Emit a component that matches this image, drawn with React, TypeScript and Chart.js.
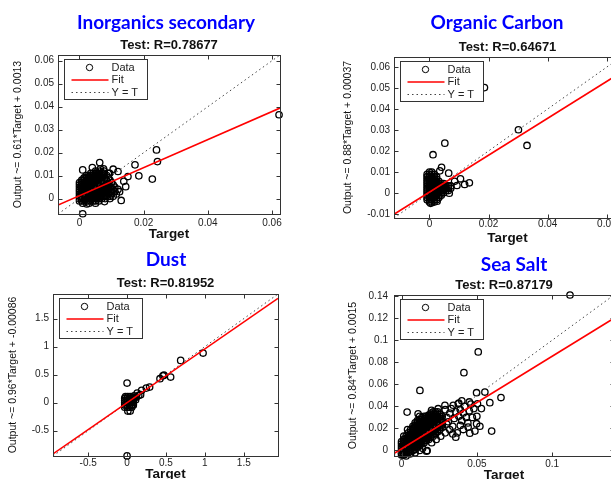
import { useEffect, useRef } from "react";
import { Chart, registerables } from "chart.js";

Chart.register(...registerables);

// ---------------- DATA ----------------
const panelTitles = ["Inorganics secondary", "Organic Carbon", "Dust", "Sea Salt"];
const panelR = ["0.78677", "0.64671", "0.81952", "0.87179"];
const yAxisTitles = [
  "Output ~= 0.61*Target + 0.0013",
  "Output ~= 0.88*Target + 0.00037",
  "Output ~= 0.96*Target + -0.00086",
  "Output ~= 0.84*Target + 0.0015",
];
const fitSlopes = [0.61, 0.88, 0.96, 0.84];
const fitIntercepts = [0.0013, 0.00037, -0.00086, 0.0015];
const axisMin = [-0.0067, -0.012, -0.952, -0.005];
const axisMax = [0.0625, 0.0648, 1.94, 0.141];
const xTickValues = [
  [0, 0.02, 0.04, 0.06],
  [0, 0.02, 0.04, 0.06],
  [-0.5, 0, 0.5, 1, 1.5],
  [0, 0.05, 0.1],
];
const yTickValues = [
  [0, 0.01, 0.02, 0.03, 0.04, 0.05, 0.06],
  [-0.01, 0, 0.01, 0.02, 0.03, 0.04, 0.05, 0.06],
  [-0.5, 0, 0.5, 1, 1.5],
  [0, 0.02, 0.04, 0.06, 0.08, 0.1, 0.12, 0.14],
];

// Inorganics secondary: dense core, one row of targets per output level
const inorganicsCoreY = [-0.002, -0.001, 0, 0.001, 0.002, 0.003, 0.004, 0.005, 0.006, 0.007, 0.008, 0.009, 0.01, 0.011, 0.012, 0.013];
const inorganicsCoreX = [
  [0.001, 0.003, 0.005],
  [0, 0.0007, 0.0014, 0.0021, 0.0028, 0.0035, 0.0042, 0.0049, 0.006],
  [0, 0.0007, 0.0014, 0.0021, 0.0028, 0.0035, 0.0042, 0.0049, 0.0056, 0.0063, 0.007, 0.008, 0.0095],
  [0, 0.0007, 0.0014, 0.0021, 0.0028, 0.0035, 0.0042, 0.0049, 0.0056, 0.0063, 0.007, 0.0077, 0.0084, 0.0095, 0.0105],
  [0, 0.0007, 0.0014, 0.0021, 0.0028, 0.0035, 0.0042, 0.0049, 0.0056, 0.0063, 0.007, 0.0077, 0.0084, 0.0091, 0.01, 0.0115],
  [0, 0.0007, 0.0014, 0.0021, 0.0028, 0.0035, 0.0042, 0.0049, 0.0056, 0.0063, 0.007, 0.0077, 0.0084, 0.0091, 0.0098, 0.011, 0.0125],
  [0, 0.0007, 0.0014, 0.0021, 0.0028, 0.0035, 0.0042, 0.0049, 0.0056, 0.0063, 0.007, 0.0077, 0.0084, 0.0091, 0.0098, 0.0105, 0.012],
  [0, 0.0007, 0.0014, 0.0021, 0.0028, 0.0035, 0.0042, 0.0049, 0.0056, 0.0063, 0.007, 0.0077, 0.0084, 0.0091, 0.0098, 0.011],
  [0, 0.0007, 0.0014, 0.0021, 0.0028, 0.0035, 0.0042, 0.0049, 0.0056, 0.0063, 0.007, 0.0077, 0.0084, 0.0091, 0.0105],
  [0, 0.0007, 0.0014, 0.0021, 0.0028, 0.0035, 0.0042, 0.0049, 0.0056, 0.0063, 0.007, 0.0077, 0.0084, 0.01],
  [0.0007, 0.0014, 0.0021, 0.0028, 0.0035, 0.0042, 0.0049, 0.0056, 0.0063, 0.007, 0.0077, 0.0084, 0.0095],
  [0.0014, 0.0021, 0.0028, 0.0035, 0.0042, 0.0049, 0.0056, 0.0063, 0.007, 0.0077, 0.009],
  [0.0021, 0.0028, 0.0035, 0.0042, 0.0049, 0.0056, 0.0063, 0.007, 0.0085],
  [0.0035, 0.0042, 0.0049, 0.0056, 0.0063, 0.007, 0.0077, 0.009],
  [0.005, 0.0063, 0.0077],
  [0.0065],
];
const inorganicsOutliers: [number, number][] = [
  [0.0622, 0.0365], [0.024, 0.0212], [0.0243, 0.0161], [0.0173, 0.0147], [0.0185, 0.0099],
  [0.0227, 0.0085], [0.0063, 0.0157], [0.001, 0.0125], [0.013, -0.0008], [0.0078, -0.0013],
  [0.001, -0.0066], [0.0023, -0.0023], [0.0151, 0.0096], [0.0144, 0.0052], [0.012, 0.0118],
  [0.0094, 0.011], [0.0138, 0.0075], [0.0105, 0.0128], [0.0075, 0.013], [0.004, 0.0135],
];

// Organic Carbon
const organicCoreY = [-0.0044, -0.0033, -0.0022, -0.0011, 0, 0.0011, 0.0022, 0.0033, 0.0044, 0.0055, 0.0066, 0.0077, 0.0088, 0.0099];
const organicCoreX = [
  [0, 0.0008, 0.0016],
  [-0.0008, 0, 0.0008, 0.0016, 0.0024],
  [-0.0008, 0, 0.0008, 0.0016, 0.0024, 0.0032],
  [-0.0008, 0, 0.0008, 0.0016, 0.0024, 0.0032, 0.004],
  [-0.0008, 0, 0.0008, 0.0016, 0.0024, 0.0032, 0.004, 0.0048],
  [-0.0008, 0, 0.0008, 0.0016, 0.0024, 0.0032, 0.004, 0.0048, 0.0056, 0.0064],
  [-0.0008, 0, 0.0008, 0.0016, 0.0024, 0.0032, 0.004, 0.0048, 0.0056, 0.0064, 0.0072],
  [-0.0008, 0, 0.0008, 0.0016, 0.0024, 0.0032, 0.004, 0.0048, 0.0056, 0.0064, 0.0072],
  [-0.0008, 0, 0.0008, 0.0016, 0.0024, 0.0032, 0.004, 0.0048],
  [-0.0008, 0, 0.0008, 0.0016, 0.0024, 0.0032],
  [-0.0008, 0, 0.0008, 0.0016, 0.0024],
  [-0.0008, 0, 0.0008, 0.0016, 0.0024],
  [-0.0008, 0, 0.0008, 0.0016],
  [0, 0.0008],
];
const organicOutliers: [number, number][] = [
  [0.0186, 0.0502], [0.0301, 0.0301], [0.033, 0.0226], [0.0052, 0.0237], [0.0012, 0.0182],
  [0.0041, 0.0122], [0.0065, 0.0094], [0.0105, 0.0067], [0.0135, 0.0048], [0.0093, 0.0035],
  [0.0119, 0.004], [0.0067, -0.0002], [0.0004, -0.005], [0.0026, -0.004], [0.0085, 0.0055],
  [0.0035, 0.0105],
];

// Dust
const dustCoreY = [-0.08, -0.04, 0, 0.04, 0.08, 0.11];
const dustCoreX = [
  [-0.03, 0, 0.03, 0.06],
  [-0.03, 0, 0.03, 0.06, 0.08],
  [-0.03, 0, 0.03, 0.06, 0.08],
  [-0.03, 0, 0.03, 0.06, 0.08],
  [-0.03, 0, 0.03, 0.06, 0.08],
  [-0.02, 0.01, 0.04],
];
const dustOutliers: [number, number][] = [
  [0.977, 0.886], [0.689, 0.755], [0.474, 0.49], [0.56, 0.457], [0.423, 0.428],
  [0.0, 0.35], [0.29, 0.279], [0.247, 0.26], [0.187, 0.22], [0.13, 0.17],
  [0.174, 0.143], [0.097, 0.089], [0.08, -0.036], [0.01, -0.15], [0.04, -0.15],
  [0.0, -0.95], [0.11, 0.05], [0.09, 0.12], [0.15, 0.13], [0.06, -0.04],
  [0.12, 0.1], [0.46, 0.48],
];

// Sea Salt: dense band, one column of outputs per target level
const seaSaltCoreX = [0, 0.0015, 0.003, 0.0045, 0.006, 0.0075, 0.009, 0.0105, 0.012, 0.0135, 0.015, 0.0165, 0.018, 0.0195, 0.021, 0.0225, 0.024, 0.0255, 0.027];
const seaSaltCoreY = [
  [-0.004, -0.002, 0, 0.002, 0.004, 0.006, 0.008],
  [-0.004, -0.002, 0, 0.002, 0.004, 0.006, 0.008, 0.01],
  [-0.003, -0.001, 0.001, 0.003, 0.005, 0.007, 0.009, 0.011, 0.013],
  [-0.002, 0, 0.002, 0.004, 0.006, 0.008, 0.01, 0.012, 0.014, 0.016],
  [-0.001, 0.001, 0.003, 0.005, 0.007, 0.009, 0.011, 0.013, 0.015, 0.017, 0.019],
  [0, 0.002, 0.004, 0.006, 0.008, 0.01, 0.012, 0.014, 0.016, 0.018, 0.02, 0.022],
  [0.001, 0.003, 0.005, 0.007, 0.009, 0.011, 0.013, 0.015, 0.017, 0.019, 0.021, 0.023, 0.025],
  [0.003, 0.005, 0.007, 0.009, 0.011, 0.013, 0.015, 0.017, 0.019, 0.021, 0.023, 0.025, 0.027],
  [0.004, 0.006, 0.008, 0.01, 0.012, 0.014, 0.016, 0.018, 0.02, 0.022, 0.024, 0.026, 0.028],
  [0.006, 0.008, 0.01, 0.012, 0.014, 0.016, 0.018, 0.02, 0.022, 0.024, 0.026, 0.028, 0.03],
  [0.007, 0.009, 0.011, 0.013, 0.015, 0.017, 0.019, 0.021, 0.023, 0.025, 0.027, 0.029, 0.031],
  [0.009, 0.011, 0.013, 0.015, 0.017, 0.019, 0.021, 0.023, 0.025, 0.027, 0.029, 0.031],
  [0.01, 0.012, 0.014, 0.016, 0.018, 0.02, 0.022, 0.024, 0.026, 0.028, 0.03, 0.032],
  [0.012, 0.014, 0.016, 0.018, 0.02, 0.022, 0.024, 0.026, 0.028, 0.03, 0.032, 0.034],
  [0.013, 0.015, 0.017, 0.019, 0.021, 0.023, 0.025, 0.027, 0.029, 0.031, 0.033, 0.035],
  [0.015, 0.017, 0.019, 0.021, 0.023, 0.025, 0.027, 0.029, 0.031, 0.033, 0.035],
  [0.017, 0.019, 0.021, 0.023, 0.025, 0.027, 0.029, 0.031, 0.033, 0.035],
  [0.019, 0.021, 0.023, 0.025, 0.027, 0.029, 0.031, 0.033],
  [0.021, 0.023, 0.025, 0.027, 0.029, 0.031],
];
const seaSaltOutliers: [number, number][] = [
  [0.0243, 0.0379], [0.0199, 0.0364], [0.0288, 0.041], [0.0343, 0.041], [0.0376, 0.0424],
  [0.011, 0.0333], [0.0037, 0.0348],
  [0.0122, 0.0545], [0.0414, 0.0706], [0.0509, 0.0894], [0.1118, 0.141], [0.0498, 0.0524],
  [0.0553, 0.053], [0.066, 0.048], [0.0586, 0.0434], [0.0504, 0.0424], [0.0598, 0.0176],
  [0.036, 0.0121], [0.017, 0], [0.0453, 0.0157], [0.0498, 0.0243], [0.039, 0.0227],
  [0.0442, 0.0212], [0.0487, 0.0176], [0.0166, -0.0006],
  [0.03, 0.03], [0.032, 0.034], [0.031, 0.026], [0.033, 0.038], [0.035, 0.029], [0.036, 0.035],
  [0.038, 0.031], [0.039, 0.037], [0.04, 0.027], [0.041, 0.034], [0.042, 0.04], [0.043, 0.03],
  [0.044, 0.025], [0.045, 0.036], [0.046, 0.042], [0.047, 0.03], [0.048, 0.038], [0.045, 0.044],
  [0.029, 0.037], [0.034, 0.022], [0.032, 0.019], [0.029, 0.016], [0.026, 0.013],
  [0.03, 0.024], [0.052, 0.022], [0.05, 0.031], [0.053, 0.038], [0.037, 0.016],
  [0.041, 0.019], [0.023, 0.01], [0.02, 0.007], [0.034, 0.015], [0.04, 0.045], [0.038, 0.043],
  [0.012, 0.031], [0.001, -0.004], [0.003, -0.005], [0.006, -0.003], [0.009, -0.002],
  [0.012, 0], [0.014, 0.002], [0.0015, 0.013], [0.004, 0.019],
];

function rowsToPoints(ys: number[], xs: number[][]): [number, number][] {
  const out: [number, number][] = [];
  ys.forEach((y, r) => xs[r].forEach((x) => out.push([x, y])));
  return out;
}
function colsToPoints(xs: number[], ys: number[][]): [number, number][] {
  const out: [number, number][] = [];
  xs.forEach((x, c) => ys[c].forEach((y) => out.push([x, y])));
  return out;
}

const panelPoints: [number, number][][] = [
  [...rowsToPoints(inorganicsCoreY, inorganicsCoreX), ...inorganicsOutliers],
  [...rowsToPoints(organicCoreY, organicCoreX), ...organicOutliers],
  [...rowsToPoints(dustCoreY, dustCoreX), ...dustOutliers],
  [...colsToPoints(seaSaltCoreX, seaSaltCoreY), ...seaSaltOutliers],
];

// ---------------- LAYOUT (page pixel positions) ----------------
type Geo = {
  canvas: [number, number, number, number];
  area: [number, number, number, number];
  head: [number, number];
  subY: number;
  yTitleX: number;
  yLabRight: number;
  xLabY: number;
  xTitleY: number;
};
const GEOS: Geo[] = [
  { canvas: [0, 0, 300, 250], area: [58, 55, 280, 214], head: [166, 23], subY: 45, yTitleX: 18, yLabRight: 54, xLabY: 223, xTitleY: 234 },
  { canvas: [305, 0, 340, 250], area: [394, 57, 621, 218], head: [497, 23], subY: 47, yTitleX: 348, yLabRight: 390, xLabY: 224, xTitleY: 238 },
  { canvas: [0, 240, 300, 250], area: [53, 294, 278, 456], head: [166, 260], subY: 283, yTitleX: 13, yLabRight: 49, xLabY: 463, xTitleY: 474 },
  { canvas: [305, 240, 340, 250], area: [394, 295, 614, 456], head: [514, 265], subY: 285, yTitleX: 353, yLabRight: 388, xLabY: 464, xTitleY: 475 },
];

const FONT = "'Liberation Sans', Arial, Helvetica, sans-serif";
const TICK_SIZE = 10;
const SUB_SIZE = 13;
const YTITLE_SIZE = 10.5;
const XTITLE_SIZE = 13.5;

const headerPlugin = {
  id: "panelHeader",
  afterDraw(chart: any, _args: any, opts: any) {
    const ctx = chart.ctx;
    ctx.save();
    ctx.font = "bold 19px Lato, 'Open Sans', sans-serif";
    ctx.fillStyle = "rgb(0,0,255)";
    ctx.textAlign = "center";
    ctx.textBaseline = "middle";
    ctx.fillText(opts.text, opts.x, opts.y);
    ctx.restore();
  },
};

const framePlugin = {
  id: "matlabFrame",
  afterDatasetsDraw(chart: any) {
    const ctx = chart.ctx;
    const a = chart.chartArea;
    const xs = chart.scales.x;
    const ys = chart.scales.y;
    const l = Math.round(a.left) + 0.5;
    const t = Math.round(a.top) + 0.5;
    const r = Math.round(a.right) + 0.5;
    const b = Math.round(a.bottom) + 0.5;
    ctx.save();
    ctx.strokeStyle = "#333";
    ctx.lineWidth = 1;
    ctx.setLineDash([]);
    ctx.strokeRect(l, t, r - l, b - t);
    const TL = 4;
    ctx.beginPath();
    xs.ticks.forEach((tk: any) => {
      const p = Math.round(xs.getPixelForValue(tk.value)) + 0.5;
      ctx.moveTo(p, b); ctx.lineTo(p, b - TL);
      ctx.moveTo(p, t); ctx.lineTo(p, t + TL);
    });
    ys.ticks.forEach((tk: any) => {
      const p = Math.round(ys.getPixelForValue(tk.value)) + 0.5;
      ctx.moveTo(l, p); ctx.lineTo(l + TL, p);
      ctx.moveTo(r, p); ctx.lineTo(r - TL, p);
    });
    ctx.stroke();

    // legend box
    const bx = l + 6;
    const by = t + 4;
    const bw = 83;
    const bh = 40;
    ctx.fillStyle = "#fff";
    ctx.fillRect(bx, by, bw, bh);
    ctx.strokeStyle = "#333";
    ctx.strokeRect(bx, by, bw, bh);
    const ds = chart.data.datasets;
    const rows = [8, 20.5, 33];
    ctx.font = `11px ${FONT}`;
    ctx.textAlign = "left";
    ctx.textBaseline = "middle";
    ds.forEach((d: any, i: number) => {
      const yy = by + rows[i];
      ctx.save();
      if (i === 0) {
        ctx.strokeStyle = d.borderColor;
        ctx.lineWidth = 1;
        ctx.beginPath();
        ctx.arc(bx + 25, yy, 3.2, 0, Math.PI * 2);
        ctx.stroke();
      } else {
        ctx.strokeStyle = d.borderColor;
        ctx.lineWidth = d.borderWidth;
        ctx.setLineDash(d.borderDash || []);
        ctx.beginPath();
        ctx.moveTo(bx + 7, yy);
        ctx.lineTo(bx + 44, yy);
        ctx.stroke();
      }
      ctx.restore();
      ctx.fillStyle = "#222";
      ctx.fillText(d.label, bx + 47, yy);
    });
    ctx.restore();
  },
};

function buildConfig(i: number): any {
  const g = GEOS[i];
  const [cx, cy, cw, ch] = g.canvas;
  const [L, T, R, B] = g.area;
  const lo = axisMin[i];
  const hi = axisMax[i];
  const subLH = SUB_SIZE * 1.2;
  const yTitleLH = YTITLE_SIZE * 1.2;
  const xTitleLH = XTITLE_SIZE * 1.2;
  const tickLH = TICK_SIZE * 1.2;
  const fitData = [lo, hi].map((x) => ({ x, y: fitSlopes[i] * x + fitIntercepts[i] }));
  const idData = [lo, hi].map((v) => ({ x: v, y: v }));
  const yAxisWidth = L - cx;
  const xAxisHeight = cy + ch - B;
  return {
    type: "scatter",
    data: {
      datasets: [
        {
          label: "Data",
          data: panelPoints[i].map(([x, y]) => ({ x, y })),
          pointRadius: 3.2,
          pointBorderWidth: 1.3,
          borderColor: "#000",
          pointBorderColor: "#000",
          backgroundColor: "rgba(0,0,0,0)",
          pointBackgroundColor: "rgba(0,0,0,0)",
          clip: false,
          order: 3,
        },
        {
          label: "Fit",
          data: fitData,
          showLine: true,
          borderColor: "#ff0000",
          borderWidth: 1.6,
          pointRadius: 0,
          order: 1,
        },
        {
          label: "Y = T",
          data: idData,
          showLine: true,
          borderColor: "#444",
          borderWidth: 1,
          borderDash: [1.5, 3],
          pointRadius: 0,
          order: 2,
        },
      ],
    },
    options: {
      responsive: false,
      animation: false,
      events: [],
      layout: {
        padding: { left: 0, top: g.subY - cy - subLH / 2, right: cx + cw - R, bottom: 0 },
      },
      plugins: {
        legend: { display: false },
        tooltip: { enabled: false },
        title: { display: false },
        subtitle: {
          display: true,
          text: `Test: R=${panelR[i]}`,
          fullSize: false,
          color: "#111",
          font: { family: FONT, size: SUB_SIZE, weight: "bold", lineHeight: 1.2 },
          padding: { top: 0, bottom: T - (g.subY + subLH / 2) },
        },
        panelHeader: { text: panelTitles[i], x: g.head[0] - cx, y: g.head[1] - cy },
      },
      scales: {
        x: {
          type: "linear",
          position: "bottom",
          min: lo,
          max: hi,
          bounds: "data",
          afterBuildTicks: (s: any) => {
            s.ticks = xTickValues[i].map((v) => ({ value: v }));
          },
          afterFit: (s: any) => {
            s.height = xAxisHeight;
          },
          grid: { display: false, drawTicks: false },
          border: { display: false },
          ticks: {
            padding: g.xLabY - B - tickLH / 2,
            autoSkip: false,
            maxRotation: 0,
            color: "#222",
            font: { family: FONT, size: TICK_SIZE, lineHeight: 1.2 },
            callback: (v: any) => String(v),
          },
          title: {
            display: true,
            text: "Target",
            color: "#111",
            font: { family: FONT, size: XTITLE_SIZE, weight: "bold", lineHeight: 1.2 },
            padding: { top: 0, bottom: cy + ch - g.xTitleY - xTitleLH / 2 },
          },
        },
        y: {
          type: "linear",
          position: "left",
          min: lo,
          max: hi,
          bounds: "data",
          afterBuildTicks: (s: any) => {
            s.ticks = yTickValues[i].map((v) => ({ value: v }));
          },
          afterFit: (s: any) => {
            s.width = yAxisWidth;
          },
          grid: { display: false, drawTicks: false },
          border: { display: false },
          ticks: {
            padding: L - g.yLabRight,
            autoSkip: false,
            color: "#222",
            font: { family: FONT, size: TICK_SIZE, lineHeight: 1.2 },
            callback: (v: any) => String(v),
          },
          title: {
            display: true,
            text: yAxisTitles[i],
            color: "#111",
            font: { family: FONT, size: YTITLE_SIZE, lineHeight: 1.2 },
            padding: { top: g.yTitleX - cx - yTitleLH / 2, bottom: 0 },
          },
        },
      },
    },
    plugins: [headerPlugin, framePlugin],
  };
}

function Panel({ index }: { index: number }) {
  const ref = useRef<HTMLCanvasElement>(null);
  useEffect(() => {
    const chart = new Chart(ref.current as HTMLCanvasElement, buildConfig(index));
    return () => chart.destroy();
  }, [index]);
  const [cx, cy, cw, ch] = GEOS[index].canvas;
  return (
    <canvas
      ref={ref}
      width={cw}
      height={ch}
      style={{ position: "absolute", left: cx, top: cy, width: cw, height: ch }}
    />
  );
}

export default function App() {
  return (
    <div
      style={{
        position: "fixed",
        left: 0,
        top: 0,
        width: 611,
        height: 479,
        overflow: "hidden",
        background: "#fff",
      }}
    >
      {[0, 1, 2, 3].map((i) => (
        <Panel key={i} index={i} />
      ))}
    </div>
  );
}
